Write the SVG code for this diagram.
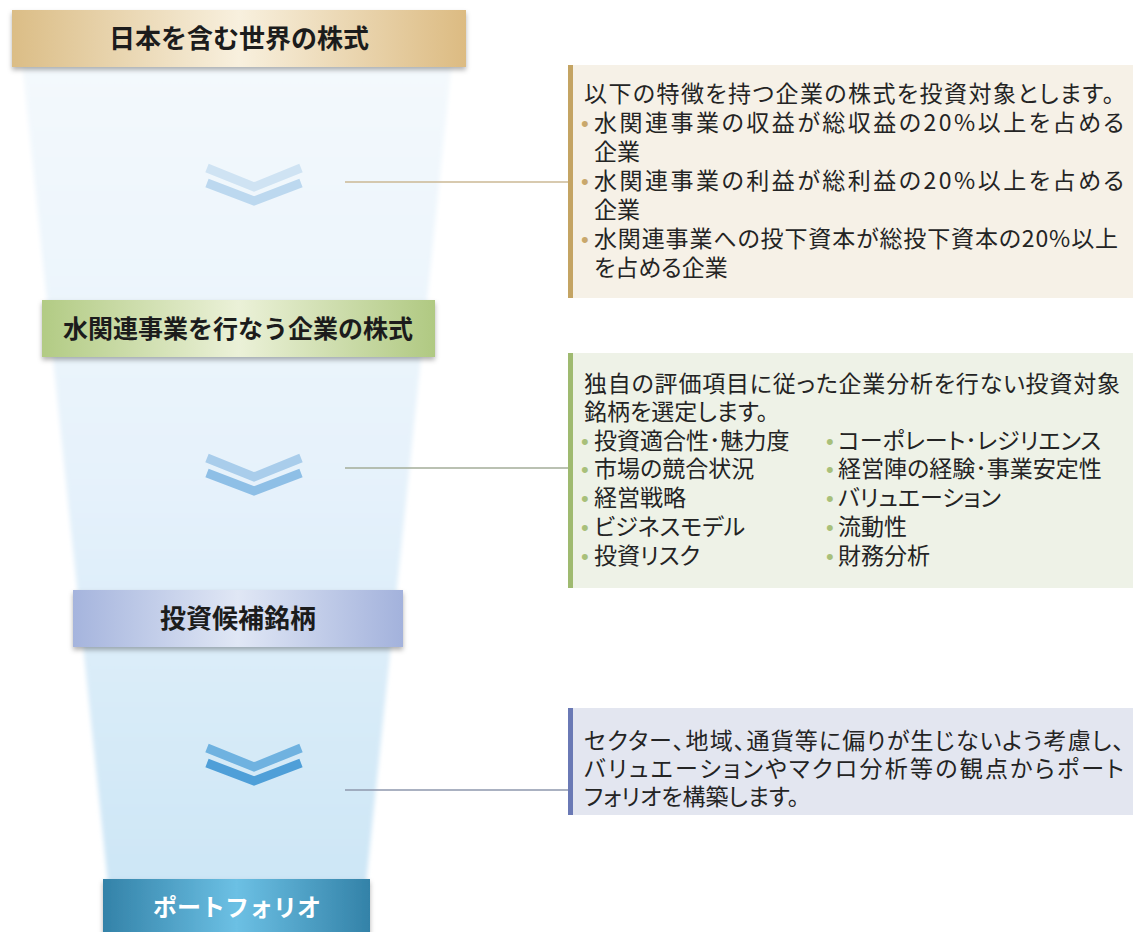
<svg xmlns="http://www.w3.org/2000/svg" width="1133" height="932" viewBox="0 0 1133 932">
<defs>
<linearGradient id="funnel" x1="0" y1="0" x2="0" y2="1">
<stop offset="0" stop-color="#f4f9fd"/>
<stop offset="0.5" stop-color="#e6f2fb"/>
<stop offset="1" stop-color="#cde6f6"/>
</linearGradient>
<linearGradient id="gTan" x1="0" y1="0" x2="1" y2="0">
<stop offset="0" stop-color="#dbbd86"/>
<stop offset="0.5" stop-color="#f8f0de"/>
<stop offset="1" stop-color="#dcbb82"/>
</linearGradient>
<linearGradient id="gGreen" x1="0" y1="0" x2="1" y2="0">
<stop offset="0" stop-color="#b2cb84"/>
<stop offset="0.5" stop-color="#ebf1d8"/>
<stop offset="1" stop-color="#b0c982"/>
</linearGradient>
<linearGradient id="gBlue" x1="0" y1="0" x2="1" y2="0">
<stop offset="0" stop-color="#a5b4dd"/>
<stop offset="0.5" stop-color="#e0e7f5"/>
<stop offset="1" stop-color="#a3b2dc"/>
</linearGradient>
<linearGradient id="gTeal" x1="0" y1="0" x2="1" y2="0">
<stop offset="0" stop-color="#3382a8"/>
<stop offset="0.5" stop-color="#6cc0e4"/>
<stop offset="1" stop-color="#3382a8"/>
</linearGradient>
<filter id="shadow" x="-5%" y="-20%" width="110%" height="150%">
<feDropShadow dx="0" dy="3" stdDeviation="2.5" flood-color="#000" flood-opacity="0.3"/>
</filter>
<filter id="soft" x="-10%" y="-5%" width="120%" height="110%">
<feGaussianBlur stdDeviation="2"/>
</filter>
<style>
.title{font-family:"Noto Sans CJK JP","Noto Sans CJK SC",sans-serif;font-weight:bold;font-size:26px;fill:#1c1c1c;text-anchor:middle}
.body{font-family:"Noto Sans CJK JP","Noto Sans CJK SC",sans-serif;font-size:23px;fill:#242424;font-feature-settings:"palt" 1}
.bul{font-family:"Liberation Sans",sans-serif;font-size:22px}
.b1{fill:#c9a86c}
.b2{fill:#a8c07a}
.conn{stroke-width:1.5;fill:none}
.chev{fill:none;stroke-width:9;stroke-linejoin:miter;stroke-linecap:butt}
</style>
</defs>
<rect width="1133" height="932" fill="#ffffff"/>
<g id="funnel-bg">
<polygon points="22,62 452,62 366,884 108,884" fill="url(#funnel)" filter="url(#soft)"/>
</g>
<g id="chevrons">
<polyline class="chev" stroke="#cfe3f3" points="207,168 254,187 301,168"/>
<polyline class="chev" stroke="#bcd8ef" points="207,183 254,201 301,183"/>
<polyline class="chev" stroke="#a9cdeb" points="207,458 254,477 301,458"/>
<polyline class="chev" stroke="#8ebfe6" points="207,473 254,491 301,473"/>
<polyline class="chev" stroke="#6fb2e0" points="207,748 254,767 301,748"/>
<polyline class="chev" stroke="#4f9fd8" points="207,763 254,781 301,763"/>
</g>
<g id="connectors">
<line class="conn" x1="345" y1="182" x2="568" y2="182" stroke="#cbb894"/>
<line class="conn" x1="345" y1="468" x2="568" y2="468" stroke="#a3ad98"/>
<line class="conn" x1="345" y1="790" x2="568" y2="790" stroke="#8e97ad"/>
</g>
<g id="node-world">
<rect x="12" y="10" width="454" height="57" fill="url(#gTan)" filter="url(#shadow)"/>
<text class="title" x="239" y="48">日本を含む世界の株式</text>
</g>
<g id="node-water">
<rect x="42" y="300" width="393" height="57" fill="url(#gGreen)" filter="url(#shadow)"/>
<text class="title" x="238" y="338" style="font-size:25px">水関連事業を行なう企業の株式</text>
</g>
<g id="node-candidates">
<rect x="73" y="590" width="330" height="57" fill="url(#gBlue)" filter="url(#shadow)"/>
<text class="title" x="238" y="628">投資候補銘柄</text>
</g>
<g id="node-portfolio">
<rect x="103" y="879" width="267" height="60" fill="url(#gTeal)" filter="url(#shadow)"/>
<text class="title" x="237" y="916" style="fill:#ffffff;font-size:24px">ポートフォリオ</text>
</g>
<g id="box-criteria">
<rect x="568" y="65" width="565" height="233" fill="#f6f1e7"/>
<rect x="568" y="65" width="5" height="233" fill="#c4a463"/>
<text class="body" x="584" y="102" textLength="530">以下の特徴を持つ企業の株式を投資対象とします。</text>
<text class="bul b1" x="581" y="131">•</text>
<text class="body" x="594" y="131" textLength="530">水関連事業の収益が総収益の20%以上を占める</text>
<text class="body" x="594" y="160">企業</text>
<text class="bul b1" x="581" y="189">•</text>
<text class="body" x="594" y="189" textLength="530">水関連事業の利益が総利益の20%以上を占める</text>
<text class="body" x="594" y="218">企業</text>
<text class="bul b1" x="581" y="247">•</text>
<text class="body" x="594" y="247" textLength="524">水関連事業への投下資本が総投下資本の20%以上</text>
<text class="body" x="594" y="276">を占める企業</text>
</g>
<g id="box-analysis">
<rect x="568" y="353" width="565" height="235" fill="#eef2e7"/>
<rect x="568" y="353" width="5" height="235" fill="#9fba70"/>
<text class="body" x="584" y="392" textLength="536">独自の評価項目に従った企業分析を行ない投資対象</text>
<text class="body" x="584" y="420">銘柄を選定します。</text>
<text class="bul b2" x="581" y="449">•</text>
<text class="bul b2" x="581" y="477">•</text>
<text class="bul b2" x="581" y="506">•</text>
<text class="bul b2" x="581" y="535">•</text>
<text class="bul b2" x="581" y="564">•</text>
<text class="bul b2" x="826" y="449">•</text>
<text class="bul b2" x="826" y="477">•</text>
<text class="bul b2" x="826" y="506">•</text>
<text class="bul b2" x="826" y="535">•</text>
<text class="bul b2" x="826" y="564">•</text>
<text class="body" x="594" y="449">投資適合性･魅力度</text>
<text class="body" x="594" y="477">市場の競合状況</text>
<text class="body" x="594" y="506">経営戦略</text>
<text class="body" x="594" y="535">ビジネスモデル</text>
<text class="body" x="594" y="564">投資リスク</text>
<text class="body" x="838" y="449">コーポレート･レジリエンス</text>
<text class="body" x="838" y="477">経営陣の経験･事業安定性</text>
<text class="body" x="838" y="506">バリュエーション</text>
<text class="body" x="838" y="535">流動性</text>
<text class="body" x="838" y="564">財務分析</text>
</g>
<g id="box-portfolio">
<rect x="568" y="708" width="565" height="107" fill="#e3e6f0"/>
<rect x="568" y="708" width="5" height="107" fill="#6a79b5"/>
<text class="body" x="584" y="749" textLength="540">セクター、地域、通貨等に偏りが生じないよう考慮し、</text>
<text class="body" x="584" y="777" textLength="540">バリュエーションやマクロ分析等の観点からポート</text>
<text class="body" x="584" y="805">フォリオを構築します。</text>
</g>
</svg>
